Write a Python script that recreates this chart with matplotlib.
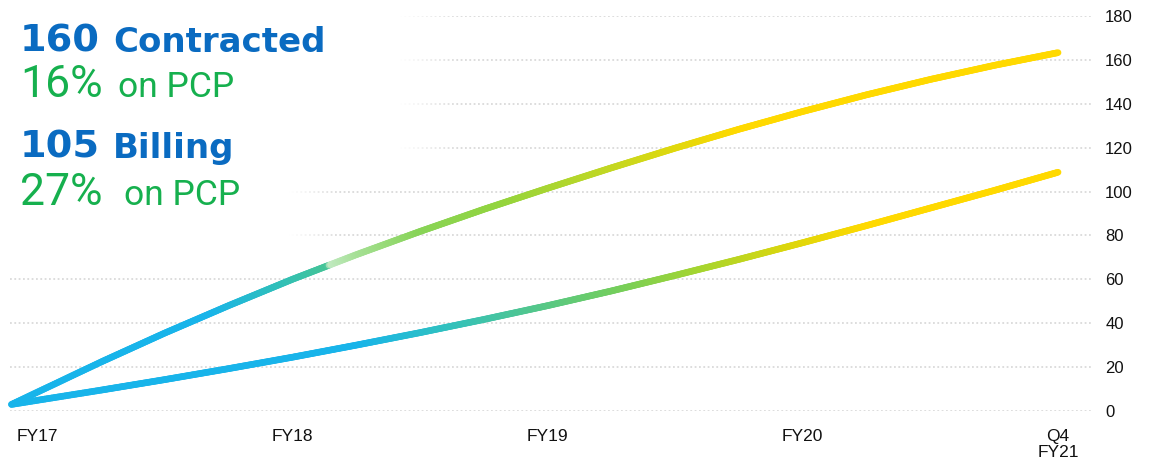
import numpy as np
import matplotlib
matplotlib.use("Agg")
import matplotlib.pyplot as plt
from matplotlib.collections import LineCollection
from matplotlib.colors import to_rgb

# ---- data ----
periods = ["FY17", "FY18", "FY19", "FY20", "Q4\nFY21"]
x_pos = [-0.1, 0.25, 0.5, 0.75, 1.0, 1.25, 1.5, 1.75, 2.0, 2.25, 2.5,
         2.75, 3.0, 3.25, 3.5, 3.75, 4.0]
contracted = [3, 22.3, 35.5, 48, 60, 71.2, 81.8, 91.9, 101.5, 110.8, 119.8,
              128.4, 136.5, 144.1, 151.1, 157.5, 163.3]
billing = [3, 9.5, 14.3, 19.3, 24.5, 30, 35.7, 41.7, 48, 54.7, 61.8,
           69.1, 76.7, 84.5, 92.5, 100.5, 108.8]
y_ticks = [0, 20, 40, 60, 80, 100, 120, 140, 160, 180]

BLUE, TEAL, GREEN, YELLOW = "#18B4EA", "#45C497", "#92D43E", "#FFD900"
TXT_BLUE, TXT_GREEN = "#0A6BC1", "#16B04E"

W, H = 1171, 463
XLIM = (-0.106, 4.133)


def gradient_line(ax, x, y, stops, lw=4.8, zorder=3):
    """Draw a polyline whose colour runs through `stops` [(x, colour), ...]."""
    xs, ys = [], []
    for i in range(len(x) - 1):
        t = np.linspace(0, 1, 40, endpoint=False)
        xs.append(x[i] + (x[i + 1] - x[i]) * t)
        ys.append(y[i] + (y[i + 1] - y[i]) * t)
    xs = np.append(np.concatenate(xs), x[-1])
    ys = np.append(np.concatenate(ys), y[-1])
    pts = np.column_stack([xs, ys])
    segs = np.stack([pts[:-1], pts[1:]], axis=1)
    mid = (xs[:-1] + xs[1:]) / 2
    sx = [s[0] for s in stops]
    rgb = np.array([to_rgb(s[1]) for s in stops])
    cols = np.column_stack([np.interp(mid, sx, rgb[:, k]) for k in range(3)])
    lc = LineCollection(segs, colors=cols, linewidths=lw, capstyle="round",
                        zorder=zorder, clip_on=False)
    ax.add_collection(lc)


fig = plt.figure(figsize=(W / 100, H / 100), dpi=100)
ax = fig.add_axes([10 / W, 52 / H, 1082 / W, 395 / H])

# white fade that hides the gridlines behind the headline block
nx, ny = 300, 200
gx = np.linspace(XLIM[0], 1.7, nx)
gy = np.linspace(68, 186, ny)
GX, GY = np.meshgrid(gx, gy)
alpha = np.where(GY >= 110, np.clip((1.657 - GX) / 0.235, 0, 1),
                 np.clip((1.187 - GX) / 0.196, 0, 1))
mask = np.ones((ny, nx, 4))
mask[..., 3] = alpha
ax.imshow(mask, extent=(XLIM[0], 1.7, 68, 186), origin="lower",
          aspect="auto", zorder=1, interpolation="bilinear")

upper_stops = [(-0.2, BLUE), (0.68, BLUE), (0.95, "#2FBFBA"), (1.14, TEAL),
               (1.15, "#C2EAC2"), (1.26, "#A6E096"), (1.5, "#88D458"),
               (1.81, GREEN), (2.2, "#BDD726"), (2.52, "#E2D80C"),
               (2.75, YELLOW), (4.2, YELLOW)]
lower_stops = [(-0.2, BLUE), (1.26, BLUE), (1.58, "#2EC0C4"), (1.93, "#50C690"),
               (2.28, "#74CE5C"), (2.6, "#A5D530"), (2.95, "#DCD60C"),
               (3.26, YELLOW), (4.2, YELLOW)]
gradient_line(ax, x_pos, contracted, upper_stops)
gradient_line(ax, x_pos, billing, lower_stops)

ax.set_xlim(*XLIM)
ax.set_ylim(0, 180)
ax.set_yticks(y_ticks)
ax.set_xticks(range(len(periods)))
ax.set_xticklabels(periods, linespacing=1.1)
ax.yaxis.tick_right()
ax.tick_params(axis="y", length=0, pad=9.5, labelsize=12, labelcolor="#111111")
ax.tick_params(axis="x", length=0, pad=13, labelsize=12.5, labelcolor="#111111")
for lab in ax.get_xticklabels() + ax.get_yticklabels():
    lab.set_family("Liberation Sans")
ax.grid(axis="y", color="#DADADA", lw=1.3, ls=(0, (1, 1.4)), zorder=0.5)
ax.set_axisbelow(True)
for s in ax.spines.values():
    s.set_visible(False)


# ---- headline block ----
def ftxt(px, base, s, size, color, weight, family):
    fig.text(px / W, 1 - base / H, s, fontsize=size, color=color,
             fontweight=weight, family=family, va="baseline", ha="left")


ftxt(20, 52, "160", 27.5, TXT_BLUE, "bold", "DejaVu Sans")
ftxt(113, 52, "Contracted", 24.5, TXT_BLUE, "bold", "DejaVu Sans")
ftxt(20, 97, "16%", 32, TXT_GREEN, "normal", "Roboto")
ftxt(118, 97, "on PCP", 25.5, TXT_GREEN, "normal", "Roboto")
ftxt(20, 158, "105", 27.5, TXT_BLUE, "bold", "DejaVu Sans")
ftxt(113, 158, "Billing", 24.5, TXT_BLUE, "bold", "DejaVu Sans")
ftxt(20, 205, "27%", 32, TXT_GREEN, "normal", "Roboto")
ftxt(124, 205, "on PCP", 25.5, TXT_GREEN, "normal", "Roboto")

fig.savefig("out.png", dpi=100)
